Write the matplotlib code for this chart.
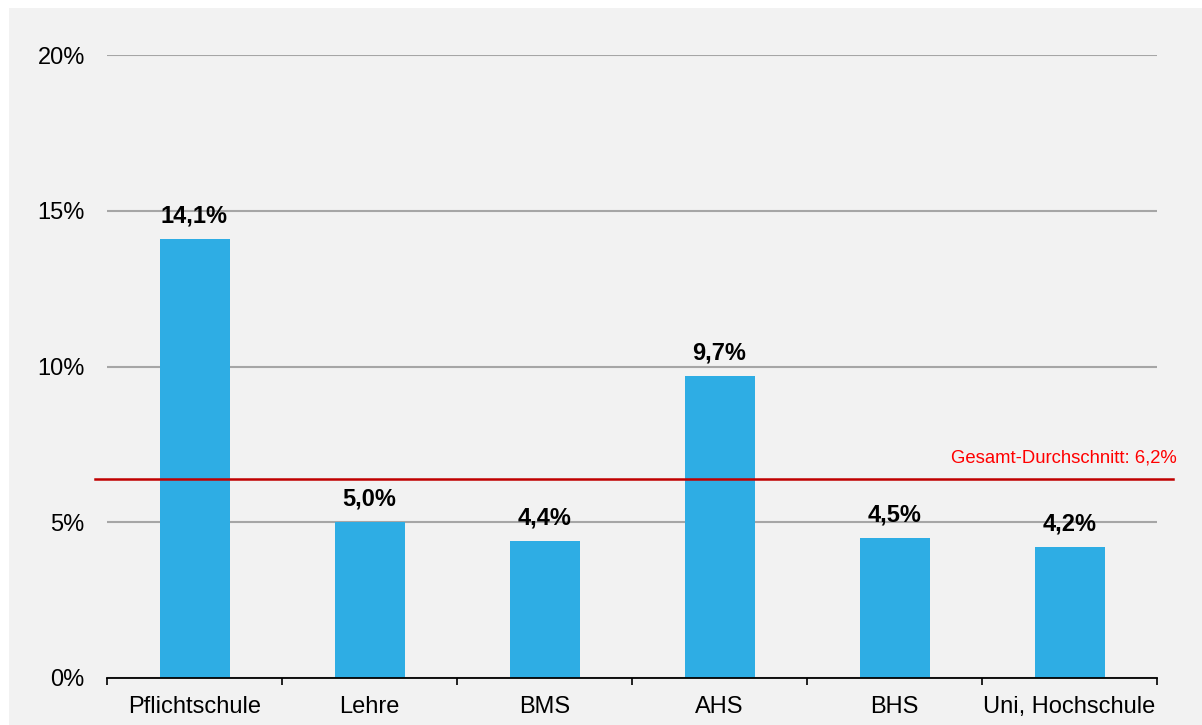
import matplotlib
matplotlib.use("Agg")
import matplotlib.pyplot as plt
from matplotlib.patches import Rectangle
from matplotlib.ticker import FixedLocator, FuncFormatter
from matplotlib.transforms import offset_copy

categories = ["Pflichtschule", "Lehre", "BMS", "AHS", "BHS", "Uni, Hochschule"]
values = [14.1, 5.0, 4.4, 9.7, 4.5, 4.2]
value_labels = ["14,1%", "5,0%", "4,4%", "9,7%", "4,5%", "4,2%"]
avg_line = 6.4
avg_label = "Gesamt-Durchschnitt: 6,2%"
y_ticks = [0, 5, 10, 15, 20]

plt.rcParams['font.family'] = ['Liberation Sans', 'DejaVu Sans']

fig = plt.figure(figsize=(12.02, 7.25), dpi=100)
fig.patch.set_facecolor('white')
fig.patches.append(Rectangle((9/1202, 0), 1, (725-8)/725, transform=fig.transFigure,
                             facecolor='#F2F2F2', edgecolor='none', zorder=-10))

ax = fig.add_axes([107/1202, 47/725, 1050/1202, 623/725])
ax.set_facecolor('none')

x = list(range(len(categories)))
ax.bar(x, values, width=0.4, color='#2EADE4', zorder=3)

for xi, v, lab in zip(x, values, value_labels):
    ax.annotate(lab, (xi, v), xytext=(0, 12), textcoords='offset points',
                ha='center', va='baseline', fontsize=17, fontweight='bold', color='black', zorder=4)

ax.set_xlim(-0.5, len(categories) - 0.5)
ax.set_ylim(0, 20)

ax.set_yticks(y_ticks)
ax.yaxis.set_major_formatter(FuncFormatter(lambda v, p: f"{int(v)}%"))
ax.tick_params(axis='y', length=0, pad=16, labelsize=17)
ax.yaxis.grid(True, color='#A6A6A6', linewidth=1.5, zorder=1)
ax.set_axisbelow(True)

ax.set_xticks(x)
ax.set_xticklabels(categories)
ax.xaxis.set_minor_locator(FixedLocator([i - 0.5 for i in range(len(categories) + 1)]))
ax.tick_params(axis='x', which='major', length=0, pad=13, labelsize=17)
ax.tick_params(axis='x', which='minor', length=5, width=1.2, color='black', direction='out')

for s in ['left', 'right', 'top']:
    ax.spines[s].set_visible(False)
ax.spines['bottom'].set_color('black')
ax.spines['bottom'].set_linewidth(1.3)
ax.spines['bottom'].set_zorder(5)

ax.plot([-12/1050, 1 + 16/1050], [avg_line, avg_line], color='#C00000', linewidth=1.8,
        transform=ax.get_yaxis_transform(), clip_on=False, zorder=4)
ax.text(1 + 20/1050, avg_line, avg_label,
        transform=offset_copy(ax.get_yaxis_transform(), fig=fig, x=0, y=11.5, units='points'),
        ha='right', va='baseline', color='#FF0000', fontsize=13.3)

fig.savefig('out.png', dpi=100)
